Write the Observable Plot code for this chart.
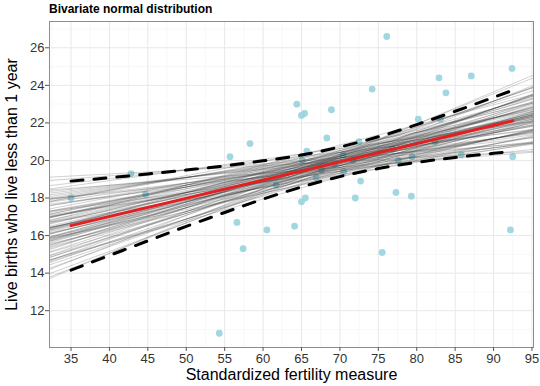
<!DOCTYPE html>
<html>
<head>
<meta charset="utf-8">
<script src="https://cdn.jsdelivr.net/npm/d3@7"></script>
<script src="https://cdn.jsdelivr.net/npm/@observablehq/plot@0.6"></script>
<style>
  html, body { margin: 0; padding: 0; background: #fff; }
  #wrap { position: relative; width: 540px; height: 386px; font-family: "Liberation Sans", Arial, sans-serif; }
  #title { position: absolute; left: 49px; top: 0; height: 20px; line-height: 19px; font-size: 12px; font-weight: bold; color: #000; }
  #chart { position: absolute; left: 0; top: 20px; }
</style>
</head>
<body>
<div id="wrap">
  <div id="title">Bivariate normal distribution</div>
  <div id="chart"></div>
</div>
<script>
// Observed points
const fertility = [80.2,83.1,92.5,85.8,76.9,76.1,83.8,92.4,82.4,82.9,87.1,64.1,66.9,68.9,61.7,68.3,71.7,55.7,54.3,65.1,65.5,65.0,56.6,57.4,72.5,74.2,72.0,60.5,58.3,65.4,75.5,69.3,77.3,70.5,79.4,65.0,92.2,79.3,70.4,65.7,72.7,64.4,77.6,67.6,35.0,44.7,42.8];
const infant = [22.2,22.2,20.2,20.3,20.6,26.6,23.6,24.9,21.0,24.4,24.5,16.5,19.1,22.7,18.7,21.2,20.0,20.2,10.8,20.0,18.0,22.4,16.7,15.3,21.0,23.8,18.0,16.3,20.9,22.5,15.1,19.8,18.3,19.4,20.2,17.8,16.3,18.1,20.3,20.5,18.9,23.0,20.0,19.5,18.0,18.2,19.3];

// Mean fit line (red)
const fitX = [35, 92.5];
const fitY = [16.53, 22.11];

// Dashed interval lines
const bandX = [35, 40, 45, 50, 55, 60, 65, 70, 75, 80, 85, 90, 92.5];
const bandUpper = [18.90, 19.08, 19.28, 19.49, 19.71, 19.98, 20.29, 20.72, 21.26, 21.91, 22.62, 23.36, 23.74];
const bandLower = [14.16, 14.94, 15.72, 16.49, 17.23, 17.94, 18.59, 19.14, 19.57, 19.90, 20.16, 20.38, 20.49];

// Sampled lines (gray), y at left and right panel edges
const sampleX = [32.2, 95.2];
const sampleLeft = [18.93,18.43,18.66,17.96,18.26,17.28,18.08,17.78,18.48,17.00,17.60,17.30,17.90,16.70,17.02,17.42,16.72,17.82,16.42,17.22,16.74,16.44,17.14,16.14,16.94,15.84,16.26,16.61,15.91,16.96,15.56,16.41,16.11,16.08,15.68,16.38,15.38,15.88,16.78,15.50,15.90,15.10,14.70,15.70,14.92,15.42,15.72,14.62,14.84,14.44,15.24,14.26,14.66,13.79,14.19,19.11,13.71,16.30,16.20,15.95,
  18.35,17.95,18.17,17.67,17.59,17.99,17.09,17.31,17.01,17.81,16.83,17.13,16.43,16.65,16.35,16.95,15.85,16.07,16.37,15.77,15.79,15.49,16.29,15.31,15.61,14.71,15.13,14.83,14.55,14.95,13.97,16.50];
const sampleRight = [20.94,20.44,21.62,20.92,21.22,20.87,21.67,21.37,22.07,21.22,21.82,21.52,22.12,20.92,21.87,22.27,21.57,22.67,21.27,22.07,22.22,21.92,22.62,21.62,22.42,21.32,22.37,22.72,22.02,23.07,21.67,22.52,22.22,22.82,22.42,23.12,22.12,22.62,23.52,22.87,23.27,22.47,22.07,23.07,22.92,23.42,23.72,22.62,23.47,23.07,23.87,23.52,23.92,24.00,24.40,20.49,24.55,22.30,22.45,22.55,
  20.99,20.59,21.44,20.94,21.49,21.89,20.99,21.84,21.54,22.34,21.99,22.29,21.59,22.44,22.14,22.74,21.64,22.50,22.80,22.20,22.85,22.55,23.35,23.00,23.30,22.40,23.45,23.15,23.50,23.90,23.55,22.35];

const xTicks = [35, 40, 45, 50, 55, 60, 65, 70, 75, 80, 85, 90, 95];
const xMinor = [32.5, 37.5, 42.5, 47.5, 52.5, 57.5, 62.5, 67.5, 72.5, 77.5, 82.5, 87.5, 92.5];
const yTicks = [12, 14, 16, 18, 20, 22, 24, 26];
const yMinor = [11, 13, 15, 17, 19, 21, 23, 25, 27];

const points = fertility.map((f, i) => ({x: f, y: infant[i]}));
const fit = fitX.map((x, i) => ({x, y: fitY[i]}));
const upper = bandX.map((x, i) => ({x, y: bandUpper[i]}));
const lower = bandX.map((x, i) => ({x, y: bandLower[i]}));
const samples = [];
sampleLeft.forEach((l, i) => {
  samples.push({id: i, x: sampleX[0], y: l});
  samples.push({id: i, x: sampleX[1], y: sampleRight[i]});
});

const chart = Plot.plot({
  width: 540,
  height: 366,
  marginTop: 1,
  marginLeft: 49,
  marginRight: 7,
  marginBottom: 39,
  style: {fontFamily: "Liberation Sans, Arial, sans-serif", background: "#fff"},
  x: {domain: [32.2, 95.2]},
  y: {domain: [10.04, 27.4]},
  marks: [
    Plot.gridX(xMinor, {stroke: "#f4f4f4", strokeOpacity: 1, strokeWidth: 0.6}),
    Plot.gridY(yMinor, {stroke: "#f4f4f4", strokeOpacity: 1, strokeWidth: 0.6}),
    Plot.gridX(xTicks, {stroke: "#e8e8e8", strokeOpacity: 1, strokeWidth: 1}),
    Plot.gridY(yTicks, {stroke: "#e8e8e8", strokeOpacity: 1, strokeWidth: 1}),
    Plot.dot(points, {x: "x", y: "y", r: 3.4, fill: "#9dd4de", fillOpacity: 0.95}),
    Plot.line(samples, {x: "x", y: "y", z: "id", stroke: "#333", strokeOpacity: 0.22, strokeWidth: 1, clip: true}),
    Plot.line(fit, {x: "x", y: "y", stroke: "#e41f1f", strokeWidth: 3}),
    Plot.line(upper, {x: "x", y: "y", stroke: "#000", strokeWidth: 3, strokeDasharray: "12,11", curve: "monotone-x"}),
    Plot.line(lower, {x: "x", y: "y", stroke: "#000", strokeWidth: 3, strokeDasharray: "12,11", curve: "monotone-x"}),
    Plot.frame({stroke: "#8c8c8c", strokeWidth: 1}),
    Plot.axisX(xTicks, {tickSize: 4, tickPadding: 2, fontSize: 13, stroke: "#555", fill: "#333", label: null}),
    Plot.axisY(yTicks, {tickSize: 4, tickPadding: 1, fontSize: 13, stroke: "#555", fill: "#333", label: null}),
    Plot.text(["Standardized fertility measure"], {frameAnchor: "bottom", dy: 32, fontSize: 16, fill: "#000"}),
    Plot.text(["Live births who live less than 1 year"], {frameAnchor: "left", dx: -38, rotate: -90, textAnchor: "middle", fontSize: 16, fill: "#000"})
  ]
});
document.getElementById("chart").appendChild(chart);
</script>
</body>
</html>
